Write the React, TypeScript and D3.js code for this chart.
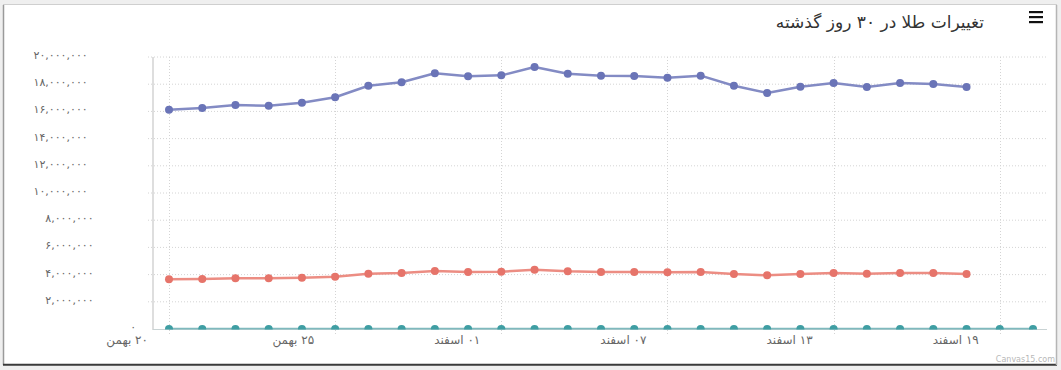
import React, { useEffect, useRef } from "react";
import * as d3 from "d3";

const W = 1061;
const H = 370;

const title = "تغییرات طلا در ۳۰ روز گذشته";
const xTickIndexes = [0, 5, 10, 15, 20, 25];
const xTickLabels = ["۲۰ بهمن", "۲۵ بهمن", "۰۱ اسفند", "۰۷ اسفند", "۱۳ اسفند", "۱۹ اسفند"];
const yTicks = [0, 2000000, 4000000, 6000000, 8000000, 10000000, 12000000, 14000000, 16000000, 18000000, 20000000];

const blueValues = [
  16120000, 16250000, 16470000, 16420000, 16640000, 17040000, 17890000, 18140000, 18800000,
  18580000, 18650000, 19260000, 18770000, 18630000, 18600000, 18480000, 18630000, 17890000,
  17350000, 17820000, 18090000, 17790000, 18090000, 18010000, 17790000,
];
const redValues = [
  3650000, 3680000, 3730000, 3730000, 3770000, 3850000, 4070000, 4120000, 4260000, 4190000,
  4210000, 4360000, 4240000, 4190000, 4190000, 4170000, 4190000, 4040000, 3950000, 4040000,
  4120000, 4070000, 4120000, 4120000, 4040000,
];
const tealValues = [
  0, 0, 0, 0, 0, 0, 0, 0, 0, 0, 0, 0, 0, 0, 0, 0, 0, 0, 0, 0, 0, 0, 0, 0, 0, 0, 0,
];

const series = [
  { values: tealValues, line: "#7fb9bd", dot: "#3f9ea3" },
  { values: redValues, line: "#ec8d83", dot: "#e6746a" },
  { values: blueValues, line: "#838bc4", dot: "#6a74b7" },
];

const toFa = (s: string) => s.replace(/[0-9]/g, (d) => "۰۱۲۳۴۵۶۷۸۹"[+d]);
const FONT = "'DejaVu Sans', sans-serif";

export default function App() {
  const ref = useRef<SVGSVGElement | null>(null);

  useEffect(() => {
    const svg = d3.select(ref.current);
    svg.selectAll("*").remove();

    const plotLeft = 153;
    const plotRight = 1047;
    const x = d3.scaleLinear().domain([0, 26]).range([169, 1033]);
    const y = d3.scaleLinear().domain([0, 20000000]).range([329, 57]);

    // background + card
    svg.append("rect").attr("width", W).attr("height", H).attr("fill", "#efefef");
    svg.append("rect").attr("x", 3.5).attr("y", 4.5).attr("width", 1053).attr("height", 360)
      .attr("fill", "#fff").attr("stroke", "#cfcfcf");
    svg.append("line").attr("x1", 3.5).attr("x2", 3.5).attr("y1", 5).attr("y2", 365).attr("stroke", "#9a9a9a").attr("stroke-width", 1.5);
    svg.append("line").attr("x1", 3).attr("x2", 1057).attr("y1", 364.8).attr("y2", 364.8).attr("stroke", "#3a3a3a").attr("stroke-width", 2);
    svg.append("line").attr("x1", 1056.5).attr("x2", 1056.5).attr("y1", 5).attr("y2", 365).attr("stroke", "#b5b5b5").attr("stroke-width", 1.5);

    // title
    svg.append("text").attr("x", 984).attr("y", 28).attr("text-anchor", "end")
      .attr("font-family", FONT).attr("font-size", 17).attr("fill", "#333").text(title);

    // hamburger
    [12, 17, 22].forEach((yy) => {
      svg.append("rect").attr("x", 1029).attr("y", yy - 1).attr("width", 14).attr("height", 2.2).attr("fill", "#111");
    });

    // horizontal gridlines
    const g = svg.append("g");
    yTicks.forEach((t) => {
      if (t === 0) return;
      g.append("line").attr("x1", 148).attr("x2", plotRight).attr("y1", y(t)).attr("y2", y(t))
        .attr("stroke", "#d4d4d4").attr("stroke-dasharray", "1,2");
    });
    // vertical gridlines + ticks
    xTickIndexes.forEach((i) => {
      const xx = Math.round(x(i)) + 0.5;
      g.append("line").attr("x1", xx).attr("x2", xx).attr("y1", 57).attr("y2", 334)
        .attr("stroke", "#d4d4d4").attr("stroke-dasharray", "1,2");
    });
    // axes lines
    g.append("line").attr("x1", plotLeft).attr("x2", plotLeft).attr("y1", 57).attr("y2", 330)
      .attr("stroke", "#dedede").attr("stroke-width", 2);
    g.append("line").attr("x1", plotLeft).attr("x2", plotRight).attr("y1", 329.5).attr("y2", 329.5)
      .attr("stroke", "#c9d3d4").attr("stroke-width", 1);

    // y labels
    yTicks.forEach((t) => {
      const txt = svg.append("text").attr("font-family", FONT).attr("font-size", 11).attr("fill", "#666")
        .attr("text-anchor", "end").attr("dominant-baseline", "central").text(toFa(d3.format(",")(t)));
      const node = txt.node() as SVGTextElement;
      const w = node.getComputedTextLength();
      txt.attr("x", 142 - w).attr("y", y(t) - (t === 0 ? 2 : 1.5));
    });

    // x labels
    xTickIndexes.forEach((i, k) => {
      svg.append("text").attr("font-family", FONT).attr("font-size", 12).attr("fill", "#666")
        .attr("text-anchor", "end").attr("x", x(i) - 21).attr("y", 344)
        .text("\u200F" + xTickLabels[k]);
    });

    // clip
    svg.append("clipPath").attr("id", "plotclip").append("rect")
      .attr("x", plotLeft).attr("y", 40).attr("width", plotRight - plotLeft).attr("height", 329.5 - 40);

    const lineGen = d3.line<number>().x((_, i) => x(i)).y((v) => y(v));
    const sg = svg.append("g").attr("clip-path", "url(#plotclip)");
    series.forEach((s) => {
      sg.append("path").attr("d", lineGen(s.values) || "").attr("fill", "none")
        .attr("stroke", s.line).attr("stroke-width", 2.5).attr("stroke-linejoin", "round");
      s.values.forEach((v, i) => {
        sg.append("circle").attr("cx", x(i)).attr("cy", y(v)).attr("r", 4).attr("fill", s.dot);
      });
    });

    // watermark
    svg.append("text").attr("x", 1055).attr("y", 362).attr("text-anchor", "end")
      .attr("font-family", FONT).attr("font-size", 8).attr("fill", "#b8b8b8").text("Canvas15.com");
  }, []);

  return (
    <svg
      ref={ref}
      width={W}
      height={H}
      style={{ position: "absolute", left: 0, top: 0, display: "block" }}
    />
  );
}
